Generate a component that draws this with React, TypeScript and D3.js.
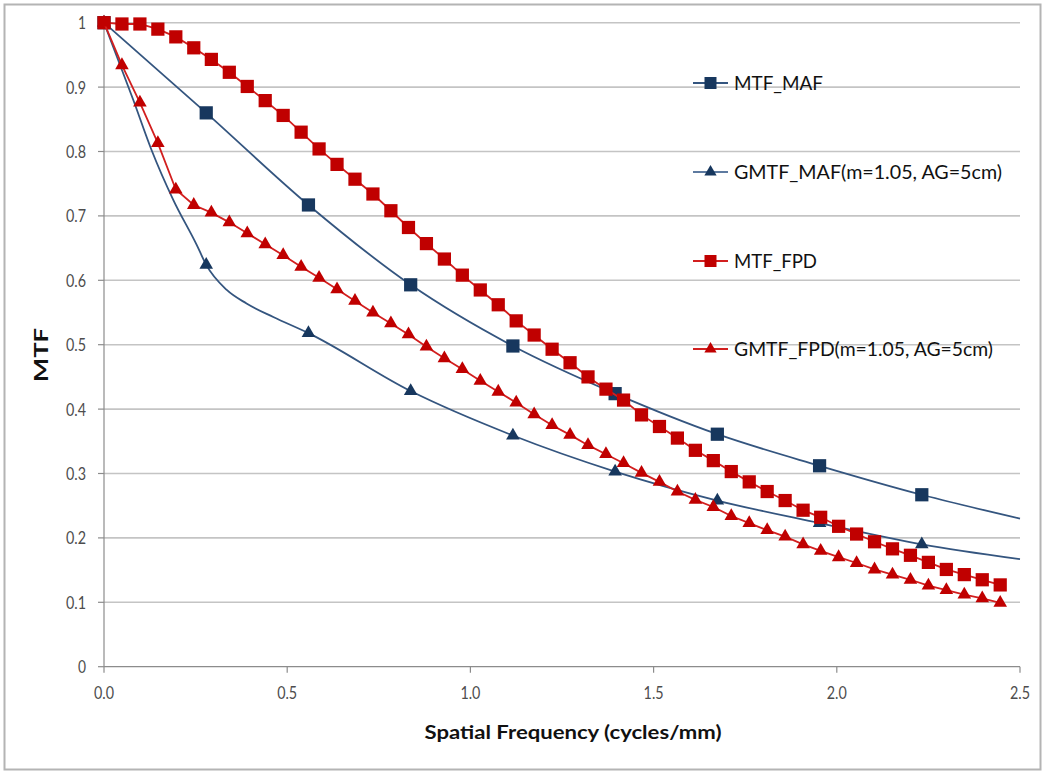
import React from 'react';
import * as d3 from 'd3';

// spatial frequency sampling of the FPD curves (cycles/mm)
const freqFPD = [
  0, 0.049, 0.098, 0.147, 0.196, 0.245, 0.293, 0.342, 0.391, 0.440,
  0.489, 0.538, 0.587, 0.636, 0.685, 0.734, 0.783, 0.831, 0.880, 0.929,
  0.978, 1.027, 1.076, 1.125, 1.174, 1.223, 1.272, 1.321, 1.370, 1.418,
  1.467, 1.516, 1.565, 1.614, 1.663, 1.712, 1.761, 1.810, 1.859, 1.908,
  1.956, 2.005, 2.054, 2.103, 2.152, 2.201, 2.250, 2.299, 2.348, 2.397, 2.446,
];
const mtfFPD = [
  1.000, 0.998, 0.998, 0.990, 0.978, 0.961, 0.943, 0.923, 0.901, 0.879,
  0.856, 0.830, 0.804, 0.780, 0.757, 0.734, 0.708, 0.682, 0.657, 0.633,
  0.608, 0.585, 0.562, 0.537, 0.515, 0.493, 0.472, 0.450, 0.431, 0.414,
  0.391, 0.373, 0.355, 0.336, 0.320, 0.303, 0.287, 0.272, 0.258, 0.243,
  0.232, 0.218, 0.206, 0.194, 0.183, 0.173, 0.162, 0.151, 0.143, 0.135, 0.127,
];
const gmtfFPD = [
  1.000, 0.934, 0.876, 0.813, 0.741, 0.717, 0.705, 0.690, 0.673, 0.656,
  0.639, 0.621, 0.604, 0.586, 0.568, 0.550, 0.533, 0.516, 0.497, 0.479,
  0.462, 0.444, 0.427, 0.410, 0.392, 0.375, 0.360, 0.344, 0.330, 0.316,
  0.301, 0.287, 0.272, 0.259, 0.248, 0.234, 0.223, 0.212, 0.202, 0.190,
  0.180, 0.170, 0.161, 0.151, 0.143, 0.135, 0.126, 0.119, 0.112, 0.106, 0.099,
];

// MAF markers
const freqMAF = [0, 0.279, 0.558, 0.837, 1.116, 1.395, 1.674, 1.953, 2.232];
const mtfMAF = [1.0, 0.860, 0.717, 0.593, 0.498, 0.424, 0.361, 0.312, 0.267];
const gmtfMAF = [1.0, 0.624, 0.518, 0.428, 0.359, 0.303, 0.258, 0.223, 0.190];

// MAF curves (run out to 2.5; GMTF has extra points around its knee)
const mtfMAFCurveX = [0, 0.279, 0.558, 0.837, 1.116, 1.395, 1.674, 1.953, 2.232, 2.5];
const mtfMAFCurveY = [1.0, 0.860, 0.717, 0.593, 0.498, 0.424, 0.361, 0.312, 0.267, 0.230];
const gmtfMAFCurveX = [0, 0.080, 0.130, 0.189, 0.253, 0.279, 0.335, 0.389, 0.462, 0.558, 0.837, 1.116, 1.395, 1.674, 1.953, 2.232, 2.5];
const gmtfMAFCurveY = [1.0, 0.880, 0.802, 0.725, 0.655, 0.624, 0.585, 0.564, 0.543, 0.518, 0.428, 0.359, 0.303, 0.258, 0.223, 0.190, 0.167];

const yTicks = [0, 0.1, 0.2, 0.3, 0.4, 0.5, 0.6, 0.7, 0.8, 0.9, 1];
const yTickLabels = ['0', '0.1', '0.2', '0.3', '0.4', '0.5', '0.6', '0.7', '0.8', '0.9', '1'];
const xTicks = [0, 0.5, 1, 1.5, 2, 2.5];
const xTickLabels = ['0.0', '0.5', '1.0', '1.5', '2.0', '2.5'];

const legendLabels = ['MTF_MAF', 'GMTF_MAF(m=1.05, AG=5cm)', 'MTF_FPD', 'GMTF_FPD(m=1.05, AG=5cm)'];
const legendWidths = [89, 268, 83, 259];

const W = 1050, H = 775;
const BLUE = '#17375e', BLUE_LINE = '#34557f', RED = '#c00000', RED_LINE = '#d21f1f';
const FONT = 'Lato, "Open Sans", sans-serif';

export default function App() {
  const x = d3.scaleLinear().domain([0, 2.5]).range([104, 1020]);
  const y = d3.scaleLinear().domain([0, 1]).range([666.7, 22.7]);

  const smooth = d3.line<[number, number]>().x(d => x(d[0])).y(d => y(d[1])).curve(d3.curveMonotoneX);
  const straight = d3.line<[number, number]>().x(d => x(d[0])).y(d => y(d[1]));

  const zip = (a: number[], b: number[]) => a.map((v, i) => [v, b[i]] as [number, number]);

  const square = d3.symbol().type(d3.symbolSquare).size(175)();
  const tri = d3.symbol().type(d3.symbolTriangle).size(80)();
  const legSquare = d3.symbol().type(d3.symbolSquare).size(144)();
  const legTri = d3.symbol().type(d3.symbolTriangle).size(65)();

  const legendItems = [
    { label: legendLabels[0], line: BLUE_LINE, fill: BLUE, shape: legSquare },
    { label: legendLabels[1], line: '#5d7aa0', fill: BLUE, shape: legTri },
    { label: legendLabels[2], line: RED_LINE, fill: RED, shape: legSquare },
    { label: legendLabels[3], line: RED_LINE, fill: RED, shape: legTri },
  ];
  const legendY = [83, 172, 261, 349];

  return (
    <svg width={W} height={H} style={{ position: 'absolute', left: 0, top: 0, background: '#fff' }}>
      <rect x={4.5} y={4.5} width={1036} height={765} fill="#fff" stroke="#b4b4b4" strokeWidth={2} />

      {/* grid */}
      {yTicks.slice(1).map(t => (
        <line key={'g' + t} x1={x(0)} x2={x(2.5)} y1={y(t)} y2={y(t)} stroke="#c4c4c4" strokeWidth={1.6} />
      ))}

      {/* axes */}
      <line x1={x(0)} x2={x(0)} y1={y(0)} y2={y(1)} stroke="#8c8c8c" strokeWidth={1.2} />
      <line x1={x(0)} x2={x(2.5)} y1={y(0)} y2={y(0)} stroke="#8c8c8c" strokeWidth={1.2} />
      {yTicks.map(t => (
        <line key={'yt' + t} x1={x(0) - 6} x2={x(0)} y1={y(t)} y2={y(t)} stroke="#8c8c8c" strokeWidth={1.2} />
      ))}
      {xTicks.map(t => (
        <line key={'xt' + t} x1={x(t)} x2={x(t)} y1={y(0)} y2={y(0) + 6} stroke="#8c8c8c" strokeWidth={1.2} />
      ))}

      {yTicks.map((t, i) => (
        <text key={'yl' + t} x={86} y={y(t) + 6.5} textAnchor="end" fontFamily={FONT} fontSize={18}
          fill="#4d4d4d" textLength={yTickLabels[i].length > 1 ? 20 : 8} lengthAdjust="spacingAndGlyphs">
          {yTickLabels[i]}
        </text>
      ))}
      {xTicks.map((t, i) => (
        <text key={'xl' + t} x={x(t)} y={698.5} textAnchor="middle" fontFamily={FONT} fontSize={18}
          fill="#4d4d4d" textLength={20} lengthAdjust="spacingAndGlyphs">
          {xTickLabels[i]}
        </text>
      ))}

      <text transform="translate(48,355) rotate(-90)" textAnchor="middle" fontFamily={FONT} fontSize={18}
        fontWeight="bold" fill="#111" textLength={54} lengthAdjust="spacingAndGlyphs">MTF</text>
      <text x={573} y={739} textAnchor="middle" fontFamily={FONT} fontSize={19} fontWeight="bold"
        fill="#111" textLength={297} lengthAdjust="spacingAndGlyphs">Spatial Frequency (cycles/mm)</text>

      {/* MTF_MAF */}
      <path d={smooth(zip(mtfMAFCurveX, mtfMAFCurveY)) || ''} fill="none" stroke={BLUE_LINE} strokeWidth={1.8} />
      {freqMAF.map((f, i) => (
        <path key={'ms' + i} d={square || ''} transform={`translate(${x(f)},${y(mtfMAF[i])})`} fill={BLUE} />
      ))}

      {/* GMTF_MAF */}
      <path d={smooth(zip(gmtfMAFCurveX, gmtfMAFCurveY)) || ''} fill="none" stroke={BLUE_LINE} strokeWidth={1.8} />
      {freqMAF.map((f, i) => (
        <path key={'mt' + i} d={tri || ''} transform={`translate(${x(f)},${y(gmtfMAF[i])})`} fill={BLUE} />
      ))}

      {/* MTF_FPD */}
      <path d={straight(zip(freqFPD, mtfFPD)) || ''} fill="none" stroke={RED_LINE} strokeWidth={1.8} />
      {freqFPD.map((f, i) => (
        <path key={'fs' + i} d={square || ''} transform={`translate(${x(f)},${y(mtfFPD[i])})`} fill={RED} />
      ))}

      {/* GMTF_FPD */}
      <path d={straight(zip(freqFPD, gmtfFPD)) || ''} fill="none" stroke={RED_LINE} strokeWidth={1.8} />
      {freqFPD.map((f, i) => (
        <path key={'ft' + i} d={tri || ''} transform={`translate(${x(f)},${y(gmtfFPD[i])})`} fill={RED} />
      ))}

      {/* legend */}
      {legendItems.map((it, i) => (
        <g key={'lg' + i} transform={`translate(0,${legendY[i]})`}>
          <line x1={693} x2={728} y1={0} y2={0} stroke={it.line} strokeWidth={2} />
          <path d={it.shape || ''} transform="translate(710.5,0)" fill={it.fill} />
          <text x={734} y={7} fontFamily={FONT} fontSize={20} fill="#111" textLength={legendWidths[i]}
            lengthAdjust="spacingAndGlyphs">{it.label}</text>
        </g>
      ))}
    </svg>
  );
}
